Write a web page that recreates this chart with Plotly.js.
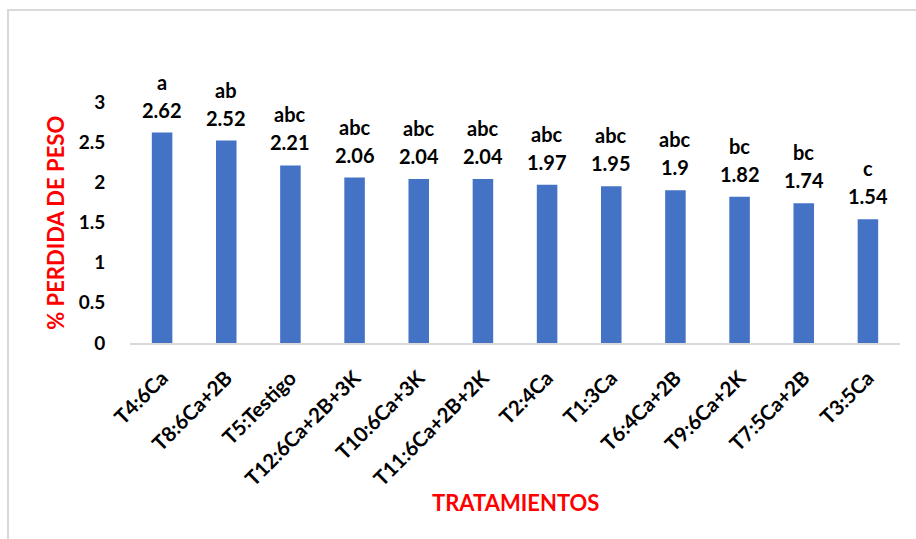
<!DOCTYPE html>
<html>
<head>
<meta charset="utf-8">
<script src="https://cdn.plot.ly/plotly-3.0.1.min.js"></script>
<style>
html,body{margin:0;padding:0;background:#fff;}
#wrap{position:relative;width:916px;height:539px;overflow:hidden;}
#chart{position:absolute;left:0;top:0;width:916px;height:539px;}
#frame{position:absolute;left:7px;top:9px;width:1200px;height:1200px;border-left:2px solid #d9d9d9;border-top:2px solid #d9d9d9;pointer-events:none;}
</style>
</head>
<body>
<div id="wrap"><div id="chart"></div><div id="frame"></div></div>
<script>
const categories = ["T4:6Ca","T8:6Ca+2B","T5:Testigo","T12:6Ca+2B+3K","T10:6Ca+3K","T11:6Ca+2B+2K","T2:4Ca","T1:3Ca","T6:4Ca+2B","T9:6Ca+2K","T7:5Ca+2B","T3:5Ca"];
const values = [2.62,2.52,2.21,2.06,2.04,2.04,1.97,1.95,1.9,1.82,1.74,1.54];
const letters = ["a","ab","abc","abc","abc","abc","abc","abc","abc","bc","bc","c"];
const yTicks = [0,0.5,1,1.5,2,2.5,3];

const FONT = "Lato, 'Open Sans', sans-serif";

const annotations = [];
categories.forEach((c,i)=>{
  annotations.push({x:c,y:values[i],xref:'x',yref:'y',text:String(values[i]),showarrow:false,
    yanchor:'middle',yshift:23,font:{family:FONT,size:20,color:'#000',weight:'bold'}});
  annotations.push({x:c,y:values[i],xref:'x',yref:'y',text:letters[i],showarrow:false,
    yanchor:'middle',yshift:51,font:{family:FONT,size:20,color:'#000',weight:'bold'}});
});
annotations.push({xref:'paper',yref:'paper',x:-0.097,y:0.5,text:'% PERDIDA DE PESO',textangle:-90,showarrow:false,
  xanchor:'center',yanchor:'middle',font:{family:FONT,size:22,color:'#ff0000',weight:'bold'}});
annotations.push({xref:'paper',yref:'paper',x:0.5,y:-0.66,text:'TRATAMIENTOS',showarrow:false,
  xanchor:'center',yanchor:'middle',font:{family:FONT,size:22,color:'#ff0000',weight:'bold'}});

const trace = {type:'bar',x:categories,y:values,marker:{color:'#4472C4'},hoverinfo:'skip',cliponaxis:false};

const layout = {
  width:916,height:539,
  margin:{l:130,r:16,t:102,b:196,pad:0},
  paper_bgcolor:'#fff',plot_bgcolor:'#fff',
  showlegend:false,
  bargap:0.68,
  xaxis:{type:'category',tickangle:-45,showline:true,linecolor:'#d9d9d9',linewidth:2,
    ticks:'outside',ticklen:13,tickcolor:'rgba(0,0,0,0)',
    tickfont:{family:FONT,size:20.5,color:'#000',weight:'bold'},showgrid:false,zeroline:false},
  yaxis:{range:[0,3],tickvals:yTicks,ticktext:yTicks.map(String),showgrid:false,zeroline:false,showline:false,
    ticks:'outside',ticklen:20,tickcolor:'rgba(0,0,0,0)',
    tickfont:{family:FONT,size:19,color:'#000',weight:'bold'}},
  annotations:annotations,
  font:{family:FONT}
};
Plotly.newPlot('chart',[trace],layout,{displayModeBar:false,staticPlot:true});
</script>
</body>
</html>
